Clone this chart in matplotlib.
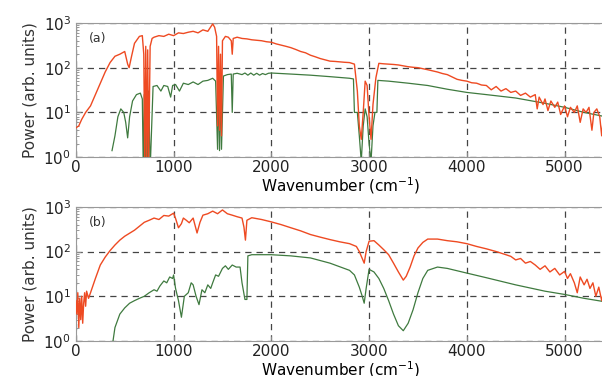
import matplotlib
matplotlib.use("Agg")
import matplotlib.pyplot as plt
from matplotlib.ticker import LogLocator, FixedLocator

# ---- panel (a) ----
wn_a_red = [0, 30, 60, 100, 150, 200, 250, 300, 350, 400, 450, 500, 530, 545, 570, 600, 650, 680,
            695, 705, 715, 725, 735, 745, 760, 780, 800, 850, 900, 950, 1000, 1050, 1100, 1150,
            1200, 1250, 1300, 1350, 1400, 1420, 1440, 1450, 1460, 1470, 1480, 1490, 1500, 1530,
            1560, 1590, 1600, 1610, 1650, 1700, 1750, 1800, 1850, 1900, 1950, 2000, 2050, 2100,
            2150, 2200, 2250, 2300, 2350, 2400, 2450, 2500, 2550, 2600, 2650, 2700, 2750, 2800,
            2850, 2880, 2900, 2920, 2940, 2960, 2980, 3000, 3020, 3040, 3070, 3100, 3150, 3200,
            3250, 3300, 3350, 3400, 3450, 3500, 3550, 3600, 3650, 3700, 3750, 3800, 3850, 3900,
            3950, 4000, 4050, 4100, 4150, 4200, 4250, 4300, 4350, 4400, 4450, 4500, 4550, 4600,
            4650, 4700, 4720, 4740, 4780, 4800, 4830, 4860, 4900, 4930, 4960, 5000, 5030, 5060,
            5100, 5130, 5160, 5190, 5220, 5250, 5280, 5300, 5330, 5360, 5380, 5400, 5420]
pw_a_red = [4.5, 5, 7, 10, 14, 25, 45, 80, 130, 180, 200, 230, 120, 100, 180, 350, 500, 520,
            200, 0.8, 300, 0.7, 250, 0.8, 300, 450, 480, 520, 500, 560, 520, 600, 580, 620,
            650, 600, 700, 650, 950, 800, 500, 5, 300, 4, 200, 3, 400, 500,
            480, 400, 200, 450, 480, 450, 440, 420, 410, 400, 380, 370, 340, 320,
            300, 280, 255, 230, 215, 190, 175, 160, 150, 140, 138, 135, 132, 130,
            120, 30, 5, 2.5, 10, 50, 40, 8, 2.5, 15, 60, 125, 122, 120,
            118, 115, 110, 105, 102, 100, 95, 90, 85, 80, 74, 70, 62, 55,
            52, 50, 46, 45, 41, 40, 32, 38, 30, 34, 28, 30, 24, 27,
            22, 25, 12, 22, 15, 20, 11, 18, 13, 17, 9, 14, 8, 13,
            10, 14, 6, 12, 10, 13, 4, 10, 12, 8, 3, 9, 7]

wn_a_green = [370, 400, 430, 460, 490, 510, 530, 550, 580, 620, 660, 680, 690, 700, 710, 720,
              730, 745, 760, 790, 830, 870, 900, 940, 970, 990, 1020, 1060, 1100, 1150, 1200,
              1250, 1300, 1350, 1400, 1430, 1450, 1460, 1470, 1480, 1490, 1510, 1550, 1590,
              1600, 1610, 1650, 1700, 1730, 1760, 1790, 1820, 1850, 1880, 1910, 1940, 1970,
              2000, 2200, 2400, 2600, 2800, 2840, 2850, 2880, 2900, 2920, 2940, 2960, 2980,
              3000, 3020, 3040, 3060, 3080, 3090, 3200, 3400, 3600, 3800, 4000, 4200, 4500,
              4800, 5000, 5200, 5420]
pw_a_green = [1.4, 3, 8, 12, 10, 6, 2.7, 8, 18, 25, 27, 20, 0.5, 25, 0.5, 30,
              0.5, 30, 0.5, 38, 40, 30, 40, 38, 22, 40, 42, 30, 45, 42, 48,
              42, 50, 52, 58, 50, 1.5, 60, 1.4, 60, 1.5, 65, 70, 72,
              10, 72, 75, 70, 76, 68, 76, 68, 75, 68, 74, 70, 75,
              76, 72, 68, 63, 58, 56, 10, 10, 3, 0.8, 5, 12, 8,
              2, 0.8, 5, 10, 10, 52, 50, 45, 40, 33, 28, 25, 21,
              16, 13, 10, 8]

# ---- panel (b) ----
wn_b_red = [0, 10, 20, 30, 40, 50, 60, 70, 80, 90, 100, 110, 130, 150, 200, 250, 300, 350, 400,
            450, 500, 600, 700, 750, 800, 850, 900, 950, 1000, 1020, 1050, 1080, 1100, 1130,
            1160, 1200, 1240, 1270, 1300, 1350, 1400, 1450, 1500, 1550, 1600, 1650, 1700,
            1720, 1735, 1750, 1800, 1900, 2000, 2100, 2200, 2300, 2400, 2500, 2600, 2700,
            2800, 2870, 2900, 2930, 2950, 2970, 3000, 3050, 3100, 3150, 3200, 3250, 3300,
            3350, 3380, 3420, 3460, 3500, 3550, 3600, 3700, 3800, 3900, 4000, 4100, 4200,
            4300, 4400, 4450, 4500, 4550, 4600, 4650, 4700, 4750, 4800, 4850, 4900, 4950,
            5000, 5030, 5060, 5100, 5130, 5160, 5200, 5230, 5260, 5290, 5320, 5350, 5380,
            5400, 5420]
pw_b_red = [8, 4, 12, 2, 9, 3, 10, 2.5, 7, 12, 6, 13, 9, 12, 25, 50, 75, 105, 140,
            180, 220, 300, 450, 500, 560, 520, 640, 620, 720, 550, 340, 420, 560, 500,
            440, 560, 260, 450, 650, 700, 800, 700, 850, 700, 650, 600, 560,
            350, 180, 500, 570, 520, 460, 400, 340, 290, 240, 210, 185, 165,
            150, 130, 100, 70, 55, 100, 170, 175, 140, 110, 85, 55, 35,
            23, 28, 45, 80, 120, 160, 190, 190, 175, 165, 150, 130, 115,
            100, 85, 78, 65, 70, 55, 60, 50, 40, 48, 35, 42, 30,
            36, 25, 32, 20, 12, 27, 18, 24, 15, 20, 10, 16, 8,
            13, 11]

wn_b_green = [380, 400, 450, 500, 550, 600, 650, 700, 750, 800, 830, 860, 900, 930, 960, 990,
              1000, 1020, 1050, 1080, 1110, 1150, 1180, 1200, 1230, 1260, 1290, 1320, 1350,
              1380, 1400, 1430, 1460, 1500, 1530, 1560, 1600, 1640, 1680, 1700, 1730, 1750,
              1760, 1800, 2000, 2200, 2400, 2600, 2800, 2850, 2900, 2930, 2950, 2970, 3000,
              3050, 3100, 3150, 3200, 3250, 3300, 3350, 3400, 3450, 3500, 3550, 3600, 3700,
              3800, 4000, 4200, 4500, 4800, 5000, 5200, 5420]
pw_b_green = [1, 2, 4, 5.5, 7, 8, 9, 10, 12, 14, 13, 17, 22, 20, 27, 25,
              30, 15, 8, 3.4, 10, 12, 20, 18, 10, 6.5, 14, 12, 18,
              15, 20, 30, 28, 42, 48, 40, 50, 45, 45, 20, 8.5, 8.5,
              80, 85, 85, 80, 72, 55, 38, 30, 16, 10, 7, 15, 40,
              35, 25, 15, 8, 4, 2.2, 1.7, 2.5, 5, 12, 25, 38, 45,
              42, 33, 26, 18, 13, 11, 9, 7.5]

xticks = [0, 1000, 2000, 3000, 4000, 5000]

RED = "#ee4a22"
GREEN = "#3f7a3f"

plt.rcParams["font.size"] = 11

fig = plt.figure(figsize=(6.02, 3.76), dpi=100)
ax_a = fig.add_axes([0.126, 0.582, 0.88, 0.357])
ax_b = fig.add_axes([0.126, 0.093, 0.88, 0.357])

panels = [(ax_a, "(a)", wn_a_red, pw_a_red, wn_a_green, pw_a_green),
          (ax_b, "(b)", wn_b_red, pw_b_red, wn_b_green, pw_b_green)]

for ax, tag, wr, pr, wg, pg in panels:
    ax.plot(wg, pg, color=GREEN, lw=0.9, zorder=3)
    ax.plot(wr, pr, color=RED, lw=1.0, zorder=4)
    ax.set_yscale("log")
    ax.set_ylim(1, 1000)
    ax.set_xlim(0, 5420)
    ax.xaxis.set_major_locator(FixedLocator(xticks))
    ax.yaxis.set_major_locator(LogLocator(base=10, numticks=5))
    ax.grid(True, which="major", ls=(0, (5, 4)), color="#444444", lw=0.9)
    ax.tick_params(direction="in", which="both", colors="#888888", labelcolor="#222222",
                   labelsize=11)
    ax.tick_params(axis="x", pad=2)
    for s in ax.spines.values():
        s.set_color("#999999")
    ax.set_xlabel("Wavenumber (cm$^{-1}$)", fontsize=11, labelpad=0)
    ax.set_ylabel("Power (arb. units)", fontsize=11, color="#333333")
    ax.text(0.025, 0.93, tag, transform=ax.transAxes, fontsize=9, va="top", color="#333333")

fig.savefig("out.png", dpi=100)
